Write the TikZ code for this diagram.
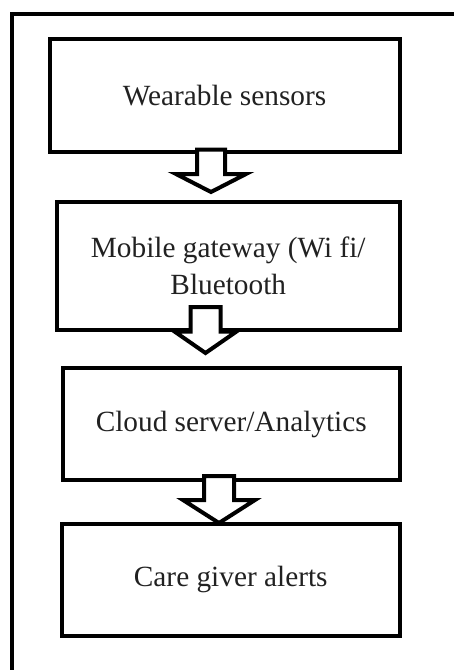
\documentclass[tikz,border=0pt]{standalone}
\usepackage{fontspec}
\setmainfont{Liberation Serif}
\newcommand\blockarrow[7]{%
  \draw[barrow] (#2-#6,#3) -- (#2-#6,#4) -- (#2-#7,#4) -- (#2,#5) -- (#2+#7,#4) -- (#2+#6,#4) -- (#2+#6,#3) -- cycle;}
\begin{document}
\begin{tikzpicture}[x=1pt,y=-1pt,
  box/.style={draw,line width=4pt,inner sep=0pt,align=center,anchor=north west,
    font=\fontsize{29.3}{37}\selectfont,text=black!87},
  barrow/.style={draw,fill=white,line width=4pt},
  frame/.style={line width=4pt}]
\useasboundingbox (0,0) rectangle (454,670);
\draw[frame] (11.5,700) -- (11.5,14) -- (490,14);

\node[box,minimum width=350pt,minimum height=112.5pt] (b1) at (47.5,37) {Wearable sensors};
\node[box,minimum width=342.5pt,minimum height=127.5pt] (b2) at (55,200) {Mobile gateway (Wi fi/\\Bluetooth};
\node[box,minimum width=336.5pt,minimum height=112pt] (b3) at (61,366) {Cloud server/Analytics};
\node[box,minimum width=337.5pt,minimum height=111.5pt] (b4) at (60,522) {Care giver alerts};

% block arrows: x-centre, top, head base, tip, shaft half-width, head half-width
\blockarrow{b1}{211}{149.5}{174}{192}{14}{35}
\blockarrow{b2}{205.5}{307}{331.5}{353}{15}{31}
\blockarrow{b3}{219}{476}{500}{523}{15}{36}
\end{tikzpicture}
\end{document}
